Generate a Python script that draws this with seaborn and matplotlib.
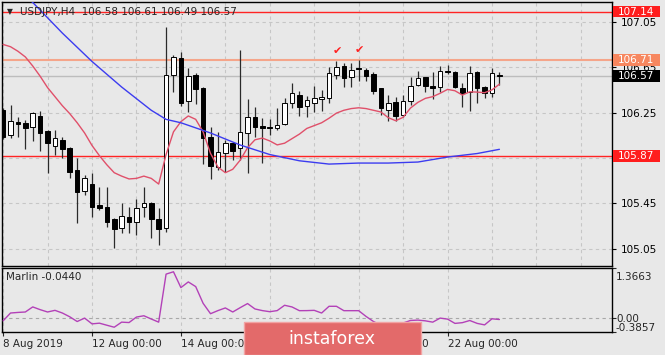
import numpy as np
import pandas as pd
import matplotlib
matplotlib.use("Agg")
import matplotlib.pyplot as plt
import matplotlib.transforms as mtrans
from matplotlib.patches import Rectangle
from matplotlib.ticker import MultipleLocator
import seaborn as sns

# ---------------- data (USDJPY H4) ----------------
opens = [106.272, 106.052, 106.169, 106.160, 106.125, 106.222, 106.087, 105.957, 106.008, 105.940,
         105.743, 105.561, 105.620, 105.435, 105.415, 105.309, 105.230, 105.332, 105.283, 105.415,
         105.455, 105.309, 105.230, 106.580, 106.727, 106.351, 106.580, 106.469, 106.037, 105.772,
         105.896, 105.984, 105.935, 106.072, 106.208, 106.131, 106.125, 106.111, 106.149, 106.336,
         106.404, 106.307, 106.336, 106.369, 106.375, 106.580, 106.660, 106.565, 106.640, 106.624,
         106.589, 106.463, 106.272, 106.340, 106.228, 106.351, 106.492, 106.560, 106.480, 106.477,
         106.618, 106.609, 106.463, 106.428, 106.609, 106.472, 106.425, 106.580]
highs = [106.290, 106.316, 106.213, 106.184, 106.257, 106.266, 106.096, 106.096, 106.032, 105.949,
         105.847, 105.699, 105.714, 105.596, 105.596, 105.320, 105.455, 105.420, 105.485, 105.596,
         105.460, 105.406, 107.006, 106.757, 106.786, 106.639, 106.595, 106.477, 106.125, 106.081,
         106.008, 105.993, 106.801, 106.366, 106.301, 106.199, 106.190, 106.287, 106.375, 106.513,
         106.442, 106.395, 106.483, 106.448, 106.654, 106.706, 106.689, 106.689, 106.713, 106.639,
         106.609, 106.470, 106.404, 106.384, 106.404, 106.565, 106.618, 106.565, 106.609, 106.660,
         106.669, 106.618, 106.507, 106.660, 106.620, 106.480, 106.639, 106.610]
lows = [106.020, 106.023, 106.037, 105.926, 105.998, 105.911, 105.714, 105.876, 105.847, 105.670,
        105.279, 105.523, 105.332, 105.391, 105.244, 105.054, 105.186, 105.186, 105.171, 105.332,
        105.142, 105.083, 105.200, 106.433, 106.307, 106.257, 106.325, 105.794, 105.662, 105.743,
        105.728, 105.830, 105.830, 105.714, 106.037, 105.808, 106.052, 106.096, 106.140, 106.287,
        106.219, 106.208, 106.257, 106.266, 106.336, 106.545, 106.477, 106.477, 106.530, 106.530,
        106.413, 106.228, 106.178, 106.175, 106.213, 106.316, 106.483, 106.433, 106.369, 106.433,
        106.589, 106.463, 106.301, 106.266, 106.336, 106.375, 106.389, 106.490]
closes = [106.037, 106.175, 106.149, 106.116, 106.243, 106.072, 105.979, 106.023, 105.926, 105.728,
          105.552, 105.670, 105.420, 105.406, 105.288, 105.221, 105.338, 105.288, 105.406, 105.450,
          105.309, 105.221, 106.580, 106.736, 106.336, 106.574, 106.457, 106.023, 105.779, 105.905,
          105.979, 105.914, 106.081, 106.213, 106.125, 106.111, 106.116, 106.140, 106.331, 106.419,
          106.296, 106.360, 106.380, 106.389, 106.601, 106.648, 106.557, 106.624, 106.630, 106.571,
          106.442, 106.287, 106.331, 106.219, 106.351, 106.483, 106.551, 106.483, 106.470, 106.618,
          106.604, 106.477, 106.419, 106.601, 106.463, 106.425, 106.601, 106.570]
bars = list(range(len(opens)))

# fast moving average (red), read per bar
red_ma = [106.85, 106.83, 106.79, 106.74, 106.66, 106.57, 106.47, 106.39, 106.31, 106.24,
          106.16, 106.07, 105.96, 105.87, 105.79, 105.72, 105.69, 105.665, 105.67, 105.69,
          105.67, 105.62, 105.88, 106.08, 106.17, 106.22, 106.19, 106.08, 105.89, 105.77,
          105.72, 105.75, 105.83, 105.94, 106.01, 106.025, 106.00, 105.965, 105.98, 106.02,
          106.06, 106.11, 106.135, 106.16, 106.20, 106.245, 106.27, 106.285, 106.292, 106.285,
          106.27, 106.255, 106.205, 106.178, 106.208, 106.29, 106.34, 106.375, 106.39, 106.42,
          106.454, 106.442, 106.404, 106.433, 106.43, 106.425, 106.45, 106.50]

# slow moving average (blue), read at selected bars
blue_bars = [0, 4, 8, 12, 16, 20, 22, 24, 28, 32, 36, 40, 44, 48, 52, 56, 60, 64, 67]
blue_vals = [107.45, 107.22, 106.95, 106.70, 106.475, 106.27, 106.19, 106.16, 106.07, 105.964,
             105.88, 105.825, 105.796, 105.805, 105.805, 105.814, 105.858, 105.889, 105.926]

# Marlin oscillator
marlin = [-0.08, 0.134, 0.15, 0.162, 0.301, 0.226, 0.162, 0.207, 0.134, 0.03,
          -0.099, -0.005, -0.163, -0.144, -0.20, -0.255, -0.116, -0.127, 0.023, 0.059,
          -0.03, -0.116, 1.199, 1.263, 0.83, 0.985, 0.857, 0.40, 0.115, 0.20,
          0.273, 0.162, 0.28, 0.393, 0.245, 0.20, 0.17, 0.20, 0.346, 0.30,
          0.198, 0.20, 0.207, 0.134, 0.318, 0.318, 0.198, 0.198, 0.198, 0.04,
          -0.099, -0.20, -0.26, -0.24, -0.14, -0.07, -0.06, -0.08, -0.116, -0.005,
          -0.033, -0.15, -0.13, -0.071, -0.15, -0.191, -0.024, -0.044]

level_prices = [107.14, 106.71, 106.57, 105.87]
level_labels = ["107.14", "106.71", "106.57", "105.87"]
level_colors = ["#ff2424", "#f5a58a", "#bdbdbd", "#ff2424"]
level_boxes = ["#ff1e1e", "#f7875f", "#000000", "#ff1e1e"]

price_ticks = [105.05, 105.45, 105.85, 106.25, 106.65, 107.05]
price_tick_labels = ["105.05", "105.45", "", "106.25", "106.65", "107.05"]
marlin_ticks = [1.3663, 0.0, -0.3857]
marlin_tick_labels = ["1.3663", "0.00", "-0.3857"]
date_ticks = [0, 12, 24, 36, 48, 60]
date_labels = ["8 Aug 2019", "12 Aug 00:00", "14 Aug 00:00", "16 Aug 00:00",
               "20 Aug 00:00", "22 Aug 00:00"]
check_bars = [45.1, 48.1]
check_prices = [106.79, 106.80]

title = "USDJPY,H4  106.58 106.61 106.49 106.57"
marlin_title = "Marlin -0.0440"

# ---------------- styling ----------------
sns.set_style("white")
plt.rcParams['font.family'] = ['DejaVu Sans']
BG = '#e8e8e8'
GRID = '#c6c6c6'
W, H = 665, 355

fig = plt.figure(figsize=(W / 100, H / 100), dpi=100, facecolor=BG)
ax = fig.add_axes([2 / W, (H - 266) / H, 610 / W, 264 / H], facecolor=BG)
ax2 = fig.add_axes([2 / W, (H - 332) / H, 610 / W, 64 / H], facecolor=BG)

xlim = (-0.15, 82.2)
df = pd.DataFrame({'bar': bars, 'open': opens, 'high': highs, 'low': lows, 'close': closes})
up = df['close'] >= df['open']

# candles
ax.vlines(df['bar'], df['low'], df['high'], color='#2a2a2a', lw=0.9, zorder=3)
body_bottom = np.minimum(df['open'], df['close'])
body_h = np.maximum((df['close'] - df['open']).abs(), 0.004)
ax.bar(df['bar'], body_h, bottom=body_bottom, width=0.62,
       color=np.where(up, 'white', 'black'), edgecolor='black', linewidth=0.7, zorder=4)

# moving averages
sns.lineplot(x=bars, y=red_ma, ax=ax, color='#e0506a', lw=1.0, zorder=5)
sns.lineplot(x=blue_bars, y=blue_vals, ax=ax, color='#3c3cf0', lw=1.0, zorder=5)

# levels
for p, c in zip(level_prices, level_colors):
    ax.axhline(p, color=c, lw=1.5 if c == "#f5a58a" else 1.0, zorder=2)

ax.set_xlim(*xlim)
ax.set_ylim(104.898, 107.224)
ax.yaxis.tick_right()
ax.set_yticks(price_ticks)
ax.set_yticklabels(price_tick_labels)
ax.tick_params(axis='y', right=True, length=3, width=0.8, pad=3, labelsize=7.5, colors='black')
ax.xaxis.set_major_locator(MultipleLocator(6))
ax.tick_params(axis='x', bottom=False, labelbottom=False)
ax.grid(True, axis='both', color=GRID, ls=(0, (3, 3)), lw=0.8, zorder=1)
ax.set_xlabel(''); ax.set_ylabel('')
for s in ax.spines.values():
    s.set_color('black'); s.set_linewidth(1.0)

# level label boxes on the right price axis
blend = mtrans.blended_transform_factory(fig.transFigure, ax.transData)
for p, lab, bc in zip(level_prices, level_labels, level_boxes):
    ax.add_patch(Rectangle((613 / W, p - 0.052), 47 / W, 0.104, transform=blend,
                           facecolor=bc, edgecolor='none', clip_on=False, zorder=6))
    ax.text(618 / W, p, lab, transform=blend, ha='left', va='center', fontsize=7.5,
            color='white', zorder=7, clip_on=False)

# check marks
for cx, cy in zip(check_bars, check_prices):
    ax.text(cx, cy, '✔', color='#ff2020', fontsize=8, ha='center', va='center', zorder=7)

# ---------------- Marlin panel ----------------
sns.lineplot(x=bars, y=marlin, ax=ax2, color='#b341b8', lw=1.0, zorder=4)
ax2.axhline(0.0, color='#a8a8a8', ls=(0, (3, 3)), lw=0.8, zorder=2)
ax2.set_xlim(*xlim)
ax2.set_ylim(-0.3857, 1.3663)
ax2.xaxis.set_major_locator(MultipleLocator(6))
ax2.grid(True, axis='x', color=GRID, ls=(0, (3, 3)), lw=0.8, zorder=1)
ax2.yaxis.tick_right()
ax2.set_yticks(marlin_ticks)
ax2.set_yticklabels([])
ax2.tick_params(axis='y', right=True, length=3, width=0.8)
ax2.set_xticks(date_ticks)
ax2.set_xticklabels(date_labels, ha='left', fontsize=7.5)
ax2.tick_params(axis='x', bottom=True, length=3, width=0.8, pad=2)
ax2.set_xlabel(''); ax2.set_ylabel('')
for s in ax2.spines.values():
    s.set_color('black'); s.set_linewidth(1.0)
for lab, yf in zip(marlin_tick_labels, [0.86, 0.21, 0.07]):
    ax2.annotate(lab, xy=(1.0, yf), xycoords='axes fraction', xytext=(4, 0),
                 textcoords='offset pixels', ha='left', va='center', fontsize=7.5,
                 annotation_clip=False)
ax2.text(4 / 610, 0.86, marlin_title, transform=ax2.transAxes, ha='left', va='center',
         fontsize=7.5)

# ---------------- header and watermark ----------------
fig.text(10 / W, 1 - 12 / H, '▼', ha='center', va='center', fontsize=5.5)
fig.text(20 / W, 1 - 12 / H, title, ha='left', va='center', fontsize=7.5)

fig.patches.append(Rectangle((244 / W, 0), 177 / W, 33 / H, transform=fig.transFigure,
                             facecolor='#e36a6a', edgecolor='#f2a3a3', lw=1.0, zorder=8))
fig.text(332 / W, 16 / H, 'instaforex', ha='center', va='center', fontsize=12.5,
         color='white', zorder=9)

fig.savefig('out.png', dpi=100, facecolor=BG)
